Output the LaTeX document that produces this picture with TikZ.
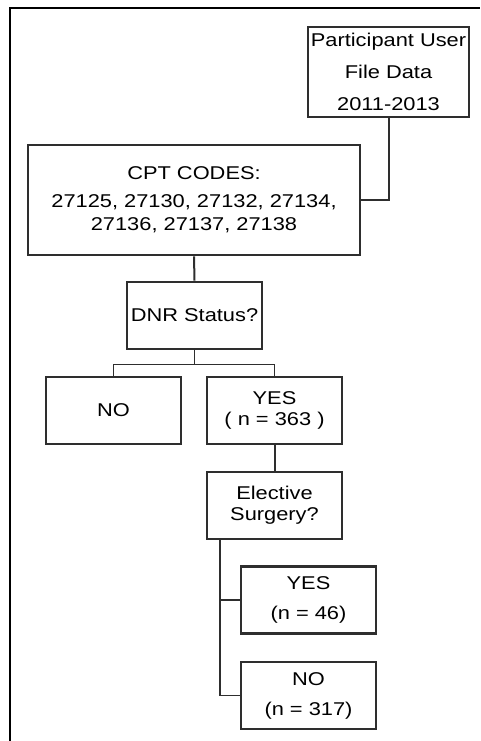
\documentclass[tikz,border=0pt]{standalone}
\usepackage{fontspec}
\setmainfont{Liberation Sans}[FakeStretch=1.18]
\newcommand{\tightfont}{\fontsize{18.5}{21}\selectfont}
\newcommand{\loosefont}{\fontsize{18.5}{30}\selectfont}

\begin{document}
\begin{tikzpicture}[x=1pt, y=1pt,
    box/.style={rectangle, draw=black!82, line width=2.6pt, fill=white,
                inner sep=0pt, align=center, font=\tightfont,
                minimum width=135pt, minimum height=67pt},
    link/.style={draw=black!82, line width=2pt},
    fork/.style={draw=black!82, line width=1.6pt},
    frame/.style={draw=black, line width=2.4pt},
]

  %% ---- page and open frame ----
  \useasboundingbox (0,0) rectangle (480,-741);
  \draw[frame] (10,-741) -- (10,-8) -- (480,-8);

  %% ---- source and codes ----
  \node[box, font=\fontsize{18.5}{32}\selectfont,
        minimum width=161pt, minimum height=90pt] (pud) at (388.5,-72)
        {Participant User\\File Data\\2011-2013};
  \node[box, font=\fontsize{18.5}{23}\selectfont,
        minimum width=332pt, minimum height=110pt] (cpt) at (194,-200)
        {CPT CODES:\\[5pt]27125, 27130, 27132, 27134,\\27136, 27137, 27138};

  %% ---- first decision ----
  \node[box] (dnr)  at (194.5,-315.5) {DNR Status?};
  \node[box] (dnrn) at (113.5,-410.5) {NO};
  \node[box] (dnry) at (274.5,-410.5) {YES\\( n = 363 )};

  %% ---- second decision ----
  \node[box] (elec) at (274.5,-505.5) {Elective\\Surgery?};
  \node[box, font=\loosefont] (elecy) at (308.5,-600)   {YES\\(n = 46)};
  \node[box, font=\loosefont] (elecn) at (308.5,-695.5) {NO\\(n = 317)};

  %% ---- connectors ----
  \draw[link] (pud.south) |- (cpt.east);
  \draw[link] (cpt.south) -- (dnr.north);
  \draw[fork] (dnr.south) -- ++(0,-14) coordinate (split);
  \draw[fork] (dnrn.north) |- (split) -| (dnry.north);
  \draw[link] (dnry.south) -- (elec.north);
  \coordinate (trunk) at ([xshift=14pt]elec.south west);
  \draw[fork] (trunk) |- (elecy.west);
  \draw[fork] (trunk) |- (elecn.west);

\end{tikzpicture}
\end{document}
